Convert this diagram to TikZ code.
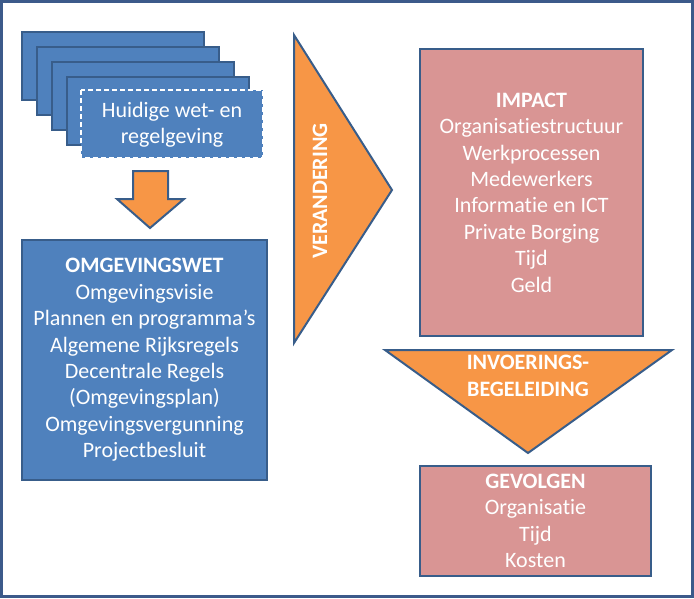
\documentclass[tikz,border=0pt]{standalone}
\usepackage{fontspec}
\setmainfont[Ligatures=NoCommon]{Carlito}
\usepackage{tikz}
\usetikzlibrary{positioning,calc}
\definecolor{wetfill}{RGB}{79,129,189}
\definecolor{wetline}{RGB}{56,93,138}
\definecolor{pijl}{RGB}{247,150,70}
\definecolor{impactfill}{RGB}{217,149,148}
\definecolor{rand}{RGB}{60,90,138}

\begin{document}
\begin{tikzpicture}[x=1pt, y=-1pt, font=\fontsize{22}{26.4}\selectfont,
  blok/.style={draw=wetline, line width=2pt, text=white, align=center, inner sep=0pt},
  w/.style={blok, fill=wetfill},
  r/.style={blok, fill=impactfill},
  p/.style={draw=wetline, line width=2pt, fill=pijl, line join=miter},
  kop/.style={font=\fontsize{22}{26.4}\selectfont\bfseries}]
  \useasboundingbox (0,0) rectangle (694,598);
  \draw[rand, line width=2.5pt] (1.5,1.5) rectangle (692.5,596.5);
  % stapel documenten
  \foreach \i in {0,...,3}
    \draw[w] (22+15*\i,32+15*\i) rectangle (204+15*\i,100+15*\i);
  \draw[fill=wetfill, draw=white, line width=1.5pt, dash pattern=on 5pt off 3pt] (81,90) rectangle (263,158);
  \node[text=white, align=center] (huidig) at (172,125) {Huidige wet- en\\regelgeving};
  \draw[p] (133,171) -- (168,171) -- (168,199) -- (184,199) -- (150,228) -- (117,199) -- (133,199) -- cycle;
  \node[w, minimum width=245, minimum height=240] (wet) at (144.5,360)
    {\textbf{OMGEVINGSWET}\\Omgevingsvisie\\Plannen en programma’s\\Algemene Rijksregels\\Decentrale Regels\\(Omgevingsplan)\\Omgevingsvergunning\\Projectbesluit};
  % verandering
  \draw[p] (294,35) -- (392,190) -- (294,343) -- cycle;
  \node[kop, text=white, rotate=90] (verandering) at (320,191) {VERANDERING};
  \node[r, minimum width=223, minimum height=287] (impact) at (531.5,192.5)
    {\textbf{IMPACT}\\Organisatiestructuur\\Werkprocessen\\Medewerkers\\Informatie en ICT\\Private Borging\\Tijd\\Geld};
  \draw[p] (385,350) -- (672,350) -- (528,453) -- cycle;
  \node[kop, text=white, align=center] (invoering) at (528,376) {INVOERINGS-\\BEGELEIDING};
  \node[r, minimum width=231, minimum height=110] (gevolgen) at (535.5,521)
    {\textbf{GEVOLGEN}\\Organisatie\\Tijd\\Kosten};
\end{tikzpicture}
\end{document}
